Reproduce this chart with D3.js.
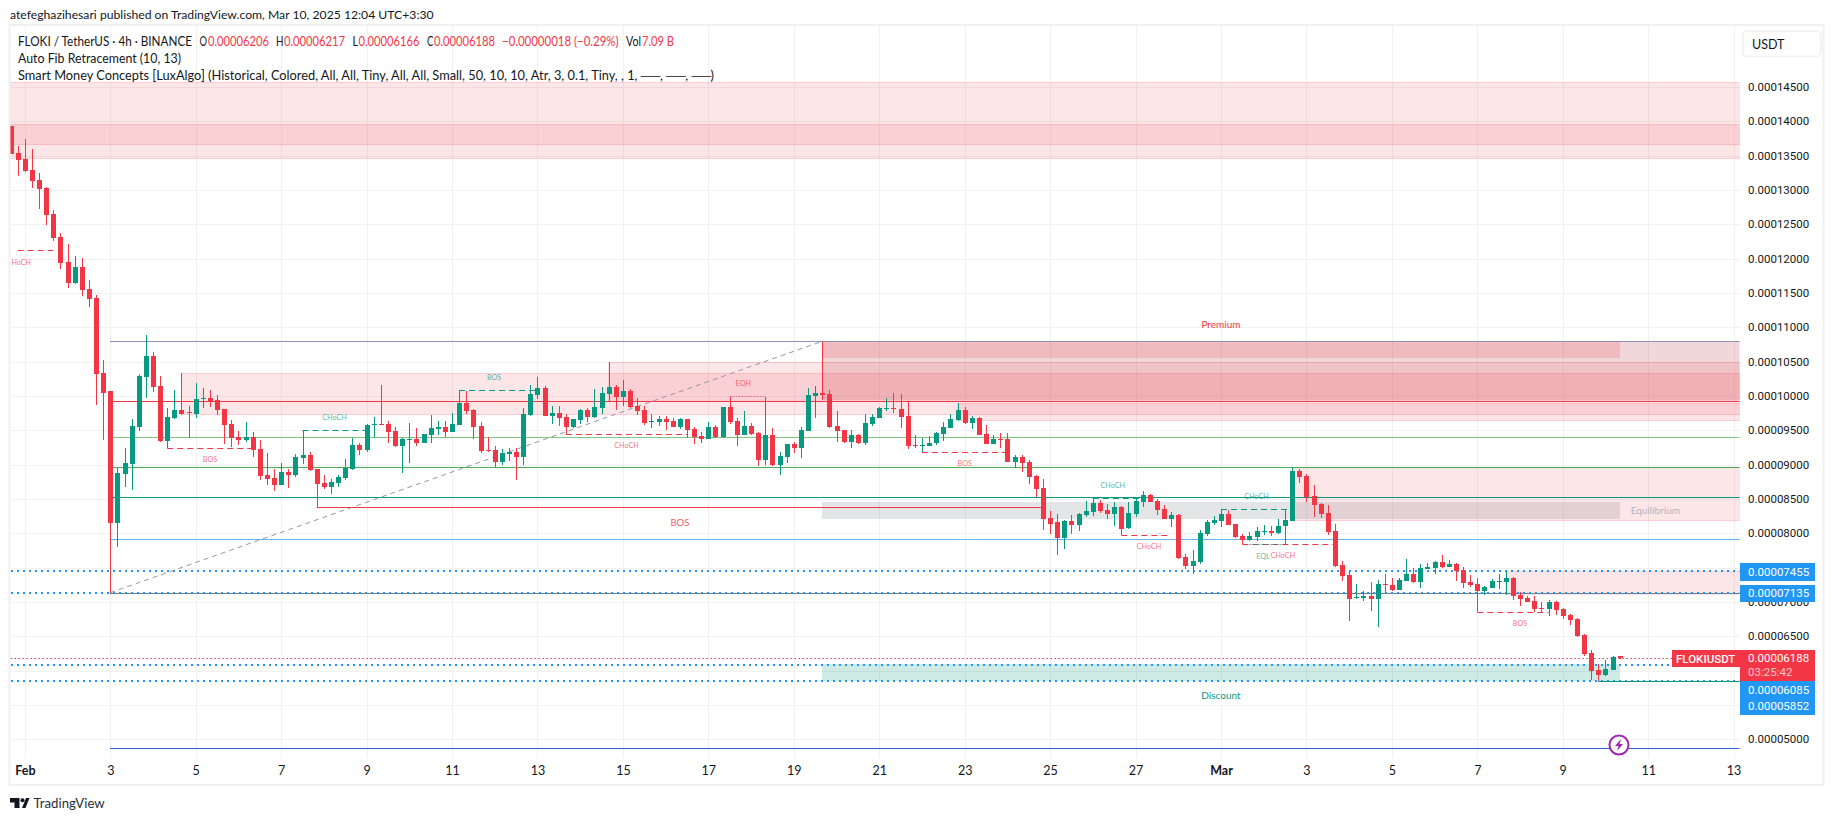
<!DOCTYPE html>
<html>
<head>
<meta charset="utf-8">
<title>FLOKI / TetherUS</title>
<script src="https://cdn.jsdelivr.net/npm/d3@7"></script>
<style>
  html, body { margin: 0; padding: 0; background: #fff; }
  svg { display: block; font-family: Lato, sans-serif; }
  text { fill: #131722; }
</style>
</head>
<body>
<svg id="chart" width="1835" height="821"></svg>
<script>
// prices are in units of 0.00000001
var opens = [
13930,13536,13449,13289,13143,13027,12648,12313,11949,11643,
11876,11555,11424,10332,10070,8148,8862,9007,9546,10274,
10580,10143,9342,9677,9794,9765,9736,9959,9969,9939,
9808,9590,9400,9357,9400,9226,8847,8803,8701,8891,
8847,9095,9138,8934,8731,8672,8731,8803,8934,9284,
9211,9575,9585,9590,9488,9269,9362,9371,9313,9430,
9517,9546,9473,9575,9896,9794,9561,9206,9211,9036,
9153,9182,9109,9721,10013,10115,9707,9750,9692,9547,
9648,9794,9692,9823,10027,10129,9983,10071,9852,9794,
9624,9619,9663,9634,9547,9663,9517,9415,9372,9547,
9401,9838,9634,9430,9561,9459,9066,9430,8993,9110,
9299,9241,9488,9998,10042,10027,9561,9503,9328,9430,
9313,9590,9678,9809,9823,9809,9707,9279,9275,9270,
9313,9444,9532,9648,9794,9605,9678,9444,9299,9372,
9372,9037,9110,9037,8833,8658,8221,8163,7930,8177,
8119,8265,8308,8439,8338,8279,8381,8075,8279,8454,
8556,8469,8352,8206,8265,7653,7522,7580,7988,8148,
8177,8279,8134,7959,7901,7944,8022,8032,8003,8106,
8179,8907,8834,8543,8426,8295,8033,7538,7392,7057,
7062,7086,7043,7261,7246,7174,7305,7407,7290,7479,
7494,7581,7509,7552,7465,7290,7261,7159,7203,7295,
7290,7348,7101,7057,7013,6911,6897,6999,6897,6809,
6751,6518,6256,6008,5936,6008,6206];

var highs = [
13930,13638,13740,13595,13245,13041,12706,12371,12211,12036,
12007,11687,11468,10521,10070,8949,9240,9663,10318,10886,
10639,10289,9823,10085,10333,9852,10187,10114,10085,10012,
9808,9648,9488,9619,9473,9357,9167,8934,9022,8934,
9153,9502,9182,8934,8847,8789,8847,9080,9386,9313,
9590,9692,10158,9634,9546,9386,9604,9532,9444,9721,
9634,9634,9750,10085,10070,9808,9619,9400,9269,9226,
9241,9241,9823,10158,10275,10144,9852,9852,9736,9663,
9809,9823,10100,10129,10493,10158,10231,10100,9969,9852,
9736,9707,9707,9678,9678,9663,9547,9474,9619,9576,
9838,9983,9678,9780,9605,9474,9983,9532,9182,9299,
9328,9547,10115,10144,10796,10085,9780,9503,9503,9445,
9736,9736,9838,9969,10042,10027,9911,9430,9386,9415,
9474,9619,9736,9896,9838,9707,9692,9576,9430,9459,
9459,9139,9139,9066,8847,8789,8323,8279,8192,8265,
8294,8469,8512,8483,8425,8454,8396,8454,8512,8614,
8571,8498,8410,8308,8279,7697,7755,8046,8192,8250,
8352,8338,8134,7988,8017,8090,8119,8104,8206,8339,
8965,8936,8863,8703,8441,8412,8135,7596,7465,7261,
7159,7290,7319,7407,7348,7348,7625,7494,7552,7567,
7596,7683,7610,7567,7509,7392,7348,7232,7334,7407,
7450,7363,7144,7086,7086,6999,7028,7013,6911,6824,
6766,6533,6300,6096,6154,6206,6217];

var lows = [
13522,13201,13260,13027,12721,12488,12255,11847,11570,11628,
11454,11293,9866,9358,7135,7798,8672,8629,9488,9969,
10056,9328,9240,9663,9721,9386,9677,9823,9837,9721,
9298,9255,9284,9328,9109,8774,8701,8614,8701,8658,
8818,9007,8905,8379,8643,8570,8672,8774,8920,9138,
9182,9386,9575,9313,9255,8876,9022,9269,9313,9313,
9430,9400,9473,9575,9736,9371,9167,9182,8964,8993,
9051,8775,8993,9707,9954,9707,9590,9561,9445,9532,
9590,9619,9678,9736,9911,9794,9852,9823,9721,9576,
9532,9561,9503,9547,9517,9386,9299,9313,9372,9386,
9386,9590,9270,9430,9430,8978,8993,8978,8847,9022,
9168,9095,9488,9678,9940,9532,9328,9313,9241,9299,
9284,9561,9678,9780,9750,9532,9226,9241,9182,9270,
9284,9343,9532,9634,9590,9517,9430,9299,9299,9241,
9037,8949,8891,8716,8527,8046,7988,7682,7769,7988,
8032,8236,8250,8294,8206,8104,7973,8061,8236,8381,
8454,8265,8206,8090,7624,7478,7405,7551,7959,8119,
8090,8119,7930,7842,7886,7886,7973,7959,7988,7843,
8179,8732,8455,8237,8222,7975,7509,7305,6722,7043,
7013,6868,6635,7130,7159,7174,7305,7276,7203,7479,
7407,7494,7509,7305,7203,7217,6858,7101,7203,7188,
7101,7028,6940,6999,6853,6853,6795,6809,6751,6664,
6489,6212,5863,5852,5921,6008,6166];

var closes = [
13522,13434,13274,13129,13012,12633,12298,11934,11643,11876,
11541,11410,10317,10041,8154,8876,9022,9561,10289,10580,
10129,9342,9692,9794,9736,9755,9954,9969,9910,9794,
9575,9386,9357,9400,9211,8832,8789,8701,8891,8847,
9109,9138,8920,8716,8672,8745,8818,8949,9284,9211,
9575,9585,9575,9473,9269,9371,9371,9313,9444,9532,
9546,9473,9590,9896,9779,9546,9197,9197,9036,9167,
9182,9109,9736,10027,10115,9707,9750,9678,9547,9663,
9794,9692,9838,10042,10129,9983,10071,9838,9780,9605,
9634,9663,9619,9547,9663,9503,9401,9372,9547,9401,
9838,9619,9430,9561,9445,9066,9430,8993,9124,9299,
9241,9503,10013,10042,10013,9547,9488,9328,9430,9313,
9605,9692,9823,9818,9813,9692,9270,9265,9284,9313,
9459,9546,9663,9794,9605,9678,9430,9299,9372,9362,
9037,9110,9022,8818,8643,8206,8134,7930,8177,8119,
8279,8323,8439,8323,8279,8381,8061,8294,8469,8556,
8454,8338,8206,8265,7638,7522,7595,8003,8163,8192,
8279,8119,7944,7901,7959,8032,8032,8003,8104,8193,
8907,8819,8528,8412,8280,8018,7523,7377,7043,7072,
7086,7043,7261,7251,7174,7319,7407,7290,7494,7509,
7581,7509,7552,7450,7276,7246,7159,7217,7305,7305,
7348,7086,7043,6999,6897,6902,6999,6882,6795,6737,
6504,6241,5994,5936,6023,6198,6188];

// time axis: candle index of each labelled date
var dateLabels = ["Feb","3","5","7","9","11","13","15","17","19","21","23","25","27","Mar","3","5","7","9","11","13"];
var firstDateIndex = 2, candlesPerLabel = 12;

var priceTicks = d3.range(5000, 14501, 500);
// these sit behind the price tags in the picture
var hiddenTicks = [7500, 6000, 5500];

// auto fib levels [price, colour]
var fibPrices = [10796, 9932, 9397, 8965, 8534, 7919, 7135, 4873];
var fibColors = ["#8e94b3", "#f23645", "#81c784", "#4caf50", "#089981", "#64b5f6", "#787b86", "#2f5fdc"];
var fibStart = 14;

// order blocks [first candle, top price, bottom price]
var redZones = [
  [0, 14570, 13657], [0, 13954, 13454], [24, 10333, 9726], [84, 10489, 9940],
  [133, 9892, 9639], [180, 8965, 8183], [210, 7450, 7111]
];
var swingZone = [114, 10796, 9940];
var premiumZone = [114, 226, 10796, 10552];
var equilibriumZone = [114, 226, 8455, 8208];
var discountZone = [114, 226, 6096, 5853];

// market structure [text, kind, first candle, last candle, price, label candle or null]
var structure = [
  ["HoCH", "red", 1, 6, 12120, 1.5],
  ["BOS", "red", 22, 34, 9240, null],
  ["CHoCH", "green", 41, 50, 9502, null],
  ["BOS", "green", 63, 74, 10085, 67.9],
  ["CHoCH", "red", 78, 95, 9445, null],
  ["BOS", "red", 128, 140, 9182, null],
  ["CHoCH", "green", 152, 159, 8512, 154.8],
  ["CHoCH", "red", 156, 163, 7973, 159.9],
  ["CHoCH", "green", 170, 180, 8352, null],
  ["CHoCH", "red", 173, 186, 7842, 178.7],
  ["BOS", "red", 206, 216, 6858, 212]
];
var bigBreak = ["BOS", 43, 145, 8379];
var eqHigh = ["EQH", 101, 106, 9995, 102.9];
var eqLow = ["EQL", 174, 179, 7842, 175.9];

var alertPrices = [7455, 7135, 6085, 5852];
var lastPrice = 6188;

var headerText = "atefeghazihesari published on TradingView.com, Mar 10, 2025 12:04 UTC+3:30";
// legend parts: text, left edge, width, colour
var legendLines = [
  [["FLOKI / TetherUS · 4h · BINANCE", 18, 174, "#131722"], ["O", 199.5, 7.5, "#131722"], ["0.00006206", 208, 61, "#f23645"],
   ["H", 276, 7.5, "#131722"], ["0.00006217", 284, 61, "#f23645"], ["L", 352.5, 5.5, "#131722"], ["0.00006166", 358.5, 61, "#f23645"],
   ["C", 427, 6.5, "#131722"], ["0.00006188", 434, 61, "#f23645"], ["−0.00000018 (−0.29%)", 502, 116.5, "#f23645"],
   ["Vol", 626, 15, "#131722"], ["7.09 B", 642, 32, "#f23645"]],
  [["Auto Fib Retracement (10, 13)", 18, 163, "#131722"]],
  [["Smart Money Concepts [LuxAlgo] (Historical, Colored, All, All, Tiny, All, All, Small, 50, 10, 10, Atr, 3, 0.1, Tiny, , 1, ──, ──, ──)", 18, 696, "#131722"]]
];

var red = "#f23645", green = "#089981", blue = "#2196f3";
var paneLeft = 10.5, paneRight = 1739.5, paneTop = 26, paneBottom = 758;

var svg = d3.select("#chart");

var x = d3.scaleLinear().domain([0, 226]).range([10.6, 1619.7]);
var y = d3.scaleLinear().domain([5000, 14500]).range([739.3, 86.9]);

var dateTicks = dateLabels.map(function(d, i){ return firstDateIndex + i * candlesPerLabel; });

// outer frame
svg.append("rect").attr("x", 9.5).attr("y", 25).attr("width", 1814).attr("height", 760)
    .attr("fill", "none").attr("stroke", "#f0f0f0").attr("stroke-width", 2);

svg.append("defs").append("clipPath").attr("id", "pane").append("rect")
    .attr("x", paneLeft).attr("y", paneTop).attr("width", paneRight - paneLeft).attr("height", paneBottom - paneTop);

//grid
var grid = svg.append("g").attr("shape-rendering", "crispEdges").attr("stroke", "#f1f1f1");
grid.selectAll(".h").data(priceTicks).enter().append("line")
    .attr("x1", paneLeft).attr("x2", paneRight)
    .attr("y1", function(d){ return Math.round(y(d)); }).attr("y2", function(d){ return Math.round(y(d)); });
grid.selectAll(".v").data(dateTicks).enter().append("line")
    .attr("y1", paneTop).attr("y2", paneBottom)
    .attr("x1", function(d){ return Math.round(x(d)) + 0.5; }).attr("x2", function(d){ return Math.round(x(d)) + 0.5; });

var pane = svg.append("g").attr("clip-path", "url(#pane)");

function zoneRect(g, x1, x2, top, bottom, fill, stroke){
    g.append("rect")
        .attr("x", x1).attr("width", x2 - x1)
        .attr("y", y(top)).attr("height", y(bottom) - y(top))
        .attr("fill", fill)
        .attr("stroke", stroke ? stroke : "none")
        .attr("shape-rendering", "crispEdges");
}

//order blocks
zoneRect(pane, x(swingZone[0]), paneRight, swingZone[1], swingZone[2], "rgba(178,40,51,0.19)");
redZones.forEach(function(z){
    zoneRect(pane, x(z[0]), paneRight, z[1], z[2], "rgba(242,54,69,0.125)", "rgba(242,54,69,0.14)");
});
zoneRect(pane, x(premiumZone[0]), x(premiumZone[1]), premiumZone[2], premiumZone[3], "rgba(242,54,69,0.18)");
zoneRect(pane, x(equilibriumZone[0]), x(equilibriumZone[1]), equilibriumZone[2], equilibriumZone[3], "rgba(120,123,134,0.2)");
zoneRect(pane, x(discountZone[0]), x(discountZone[1]), discountZone[2], discountZone[3], "rgba(8,153,129,0.2)");

//fib levels
pane.selectAll(".fib").data(fibPrices).enter().append("line")
    .attr("x1", x(fibStart)).attr("x2", paneRight)
    .attr("y1", function(d){ return Math.round(y(d)) + 0.5; }).attr("y2", function(d){ return Math.round(y(d)) + 0.5; })
    .attr("stroke", function(d, i){ return fibColors[i]; })
    .attr("shape-rendering", "crispEdges");

//fib trend line
pane.append("line")
    .attr("x1", x(fibStart)).attr("y1", y(fibPrices[6]))
    .attr("x2", x(114)).attr("y2", y(fibPrices[0]))
    .attr("stroke", "#9598a1").attr("stroke-dasharray", "5,4");

//alert price lines
pane.selectAll(".alert").data(alertPrices).enter().append("line")
    .attr("x1", paneLeft).attr("x2", paneRight)
    .attr("y1", function(d){ return Math.round(y(d)); }).attr("y2", function(d){ return Math.round(y(d)); })
    .attr("stroke", blue).attr("stroke-width", 2).attr("stroke-dasharray", "2,4")
    .attr("shape-rendering", "crispEdges");

//low of the last swing
pane.append("line")
    .attr("x1", x(223)).attr("x2", paneRight)
    .attr("y1", Math.round(y(5852)) + 0.5).attr("y2", Math.round(y(5852)) + 0.5)
    .attr("stroke", green);

//last price line
pane.append("line")
    .attr("x1", paneLeft).attr("x2", 1672)
    .attr("y1", Math.round(y(lastPrice)) + 0.5).attr("y2", Math.round(y(lastPrice)) + 0.5)
    .attr("stroke", red).attr("stroke-dasharray", "1.5,2.5");

//market structure lines
function kindColor(kind){ return kind == "red" ? red : green; }

pane.selectAll(".struct").data(structure).enter().append("line")
    .attr("x1", function(d){ return x(d[2]); }).attr("x2", function(d){ return x(d[3]); })
    .attr("y1", function(d){ return Math.round(y(d[4])) + 0.5; }).attr("y2", function(d){ return Math.round(y(d[4])) + 0.5; })
    .attr("stroke", function(d){ return kindColor(d[1]); })
    .attr("stroke-dasharray", "6,4");

pane.append("line")
    .attr("x1", x(bigBreak[1])).attr("x2", x(bigBreak[2]))
    .attr("y1", Math.round(y(bigBreak[3])) + 0.5).attr("y2", Math.round(y(bigBreak[3])) + 0.5)
    .attr("stroke", red);

pane.append("line")
    .attr("x1", x(eqHigh[1])).attr("x2", x(eqHigh[2]))
    .attr("y1", Math.round(y(eqHigh[3])) + 0.5).attr("y2", Math.round(y(eqHigh[3])) + 0.5)
    .attr("stroke", red).attr("stroke-opacity", 0.7).attr("stroke-dasharray", "1.5,1.5");

pane.append("line")
    .attr("x1", x(eqLow[1])).attr("x2", x(eqLow[2]))
    .attr("y1", Math.round(y(eqLow[3])) + 0.5).attr("y2", Math.round(y(eqLow[3])) + 0.5)
    .attr("stroke", green).attr("stroke-opacity", 0.8).attr("stroke-dasharray", "1.5,1.5");

//candles
var candles = pane.selectAll(".candle").data(opens).enter().append("g")
    .attr("shape-rendering", "crispEdges")
    .attr("fill", function(d, i){ return closes[i] >= d ? green : red; })
    .attr("stroke", "none");

candles.append("rect")
    .attr("x", function(d, i){ return Math.round(x(i)); })
    .attr("width", 1)
    .attr("y", function(d, i){ return y(highs[i]); })
    .attr("height", function(d, i){ return y(lows[i]) - y(highs[i]); });

candles.append("rect")
    .attr("x", function(d, i){ return Math.round(x(i)) - 2; })
    .attr("width", 5)
    .attr("y", function(d, i){ return y(Math.max(d, closes[i])); })
    .attr("height", function(d, i){ return Math.max(1, Math.abs(y(d) - y(closes[i]))); });

//market structure labels
function tinyLabel(text, at, price, color, dy){
    pane.append("text")
        .attr("x", x(at)).attr("y", y(price) + dy)
        .attr("dy", "0.35em")
        .style("text-anchor", "middle")
        .style("font-size", "7.2px")
        .style("fill", color)
        .style("fill-opacity", 0.72)
        .text(text);
}

structure.forEach(function(s){
    var at = s[5] === null ? (s[2] + s[3]) / 2 : s[5];
    tinyLabel(s[0], at, s[4], kindColor(s[1]), s[1] == "red" ? 11.8 : -12.8);
});
tinyLabel(eqHigh[0], eqHigh[4], eqHigh[3], red, -12.3);
tinyLabel(eqLow[0], eqLow[4], eqLow[3], green, 12.3);

pane.append("text")
    .attr("x", x((bigBreak[1] + bigBreak[2]) / 2)).attr("y", y(bigBreak[3]) + 15.4)
    .attr("dy", "0.35em")
    .style("text-anchor", "middle").style("font-size", "9.5px")
    .style("fill", red).style("fill-opacity", 0.85)
    .text(bigBreak[0]);

//zone names
function zoneLabel(text, at, price, color){
    pane.append("text")
        .attr("x", x(at)).attr("y", y(price))
        .attr("dy", "0.35em")
        .style("text-anchor", "middle").style("font-size", "10px")
        .style("fill", color)
        .text(text);
}
zoneLabel("Premium", 170, 10796 + 240, red);
zoneLabel("Equilibrium", 231, (equilibriumZone[2] + equilibriumZone[3]) / 2, "#b2b5be");
zoneLabel("Discount", 170, 5853 - 215, green);

//price axis
var yAxis = d3.axisRight(y)
    .tickValues(priceTicks.filter(function(d){ return hiddenTicks.indexOf(d) < 0; }))
    .tickSize(0).tickPadding(0)
    .tickFormat(function(d){ return (d / 1e8).toFixed(8); });
var yAxisG = svg.append("g").attr("transform", "translate(1748,0)").call(yAxis);
yAxisG.select(".domain").remove();
yAxisG.selectAll("text").style("font-size", "11.5px").style("font-family", "Roboto, sans-serif");

//time axis
var xAxis = d3.axisBottom(x).tickValues(dateTicks).tickSize(0).tickPadding(0)
    .tickFormat(function(d, i){ return dateLabels[i]; });
var xAxisG = svg.append("g").attr("transform", "translate(0,766)").call(xAxis);
xAxisG.select(".domain").remove();
xAxisG.selectAll("text")
    .style("font-size", "12.5px").style("font-family", "Lato, sans-serif")
    .style("font-weight", function(d, i){ return isNaN(+dateLabels[i]) ? 700 : 400; });

//USDT button
svg.append("rect").attr("x", 1743).attr("y", 31).attr("width", 78).attr("height", 25.5).attr("rx", 4)
    .attr("fill", "#fff").attr("stroke", "#f0f0f0").attr("stroke-width", 1.5);
svg.append("text").attr("x", 1752).attr("y", 44.5).attr("dy", "0.35em").style("font-size", "12.5px").text("USDT");

//price tags
function priceTag(x1, width, y1, height, color){
    svg.append("rect").attr("x", x1).attr("y", y1).attr("width", width).attr("height", height)
        .attr("fill", color).attr("shape-rendering", "crispEdges");
}
function tagText(text, xPos, yPos, opacity){
    svg.append("text").attr("x", xPos).attr("y", yPos).attr("dy", "0.35em")
        .style("font-size", "11.5px").style("font-family", "Roboto, sans-serif")
        .style("fill", "#fff").style("fill-opacity", opacity ? opacity : 1)
        .text(text);
}

priceTag(1740, 75, 563.3, 17.7, blue);
tagText("0.00007455", 1748, 572.3);
priceTag(1740, 75, 585, 16.7, blue);
tagText("0.00007135", 1748, 593.3);
priceTag(1740, 75, 681, 34, blue);
tagText("0.00006085", 1748, 689.5);
tagText("0.00005852", 1748, 706);
priceTag(1740, 75, 650, 31, red);
tagText("0.00006188", 1748, 658);
tagText("03:25:42", 1748, 672, 0.75);
priceTag(1672, 67.5, 650, 17, red);
svg.append("text").attr("x", 1705.7).attr("y", 658.5).attr("dy", "0.35em")
    .style("text-anchor", "middle").style("font-size", "11.5px").style("font-family", "Roboto, sans-serif")
    .style("font-weight", 500).style("fill", "#fff")
    .text("FLOKIUSDT");

//lightning marker
svg.append("circle").attr("cx", 1619).attr("cy", 745).attr("r", 9.5)
    .attr("fill", "#fff").attr("stroke", "#9c27b0").attr("stroke-width", 2);
svg.append("path").attr("transform", "translate(1619,745)")
    .attr("d", "M2,-6 L-4,1 L-0.5,1 L-2,6 L4,-1 L0.5,-1 Z").attr("fill", "#9c27b0");

//header and legend
svg.append("text").attr("x", 10).attr("y", 15).attr("dy", "0.35em").style("font-size", "12.2px").text(headerText);

legendLines.forEach(function(line, row){
    line.forEach(function(part){
        svg.append("text").attr("x", part[1]).attr("y", 41.6 + row * 17.2).attr("dy", "0.35em")
            .attr("textLength", part[2]).attr("lengthAdjust", "spacingAndGlyphs")
            .style("font-size", "12.5px").style("fill", part[3])
            .text(part[0]);
    });
});

//TradingView logo
svg.append("path")
    .attr("d", "M10,798 H19.5 V808 H14.5 V802.5 H10 Z M22,808 L26,798 H29.5 L25.5,808 Z")
    .attr("fill", "#131722");
svg.append("circle").attr("cx", 22.5).attr("cy", 800.2).attr("r", 2).attr("fill", "#131722");
svg.append("text").attr("x", 33.5).attr("y", 803.5).attr("dy", "0.35em")
    .style("font-size", "13.2px").style("fill", "#2a2e39").text("TradingView");
</script>
</body>
</html>
